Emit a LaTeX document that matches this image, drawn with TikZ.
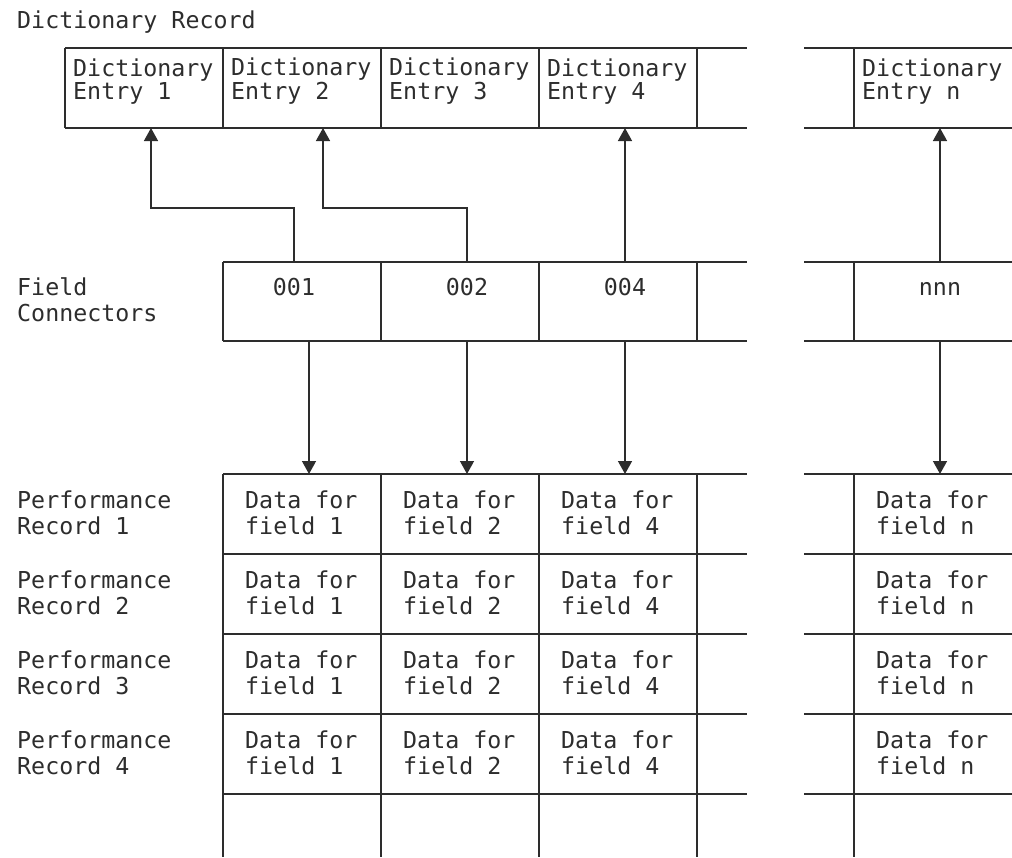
\documentclass[tikz,border=0pt]{standalone}
\usepackage{fontspec}
\newfontfamily\dmono{DejaVu Sans Mono}
\usetikzlibrary{arrows.meta}
\definecolor{ink}{RGB}{45,45,45}
\begin{document}
\begin{tikzpicture}[x=1pt,y=-1pt,
  grid/.style={draw=ink,line width=1.4pt},
  arr/.style={draw=ink,line width=1.4pt,-{Triangle[width=14pt,length=13pt]}},
  txt/.style={anchor=base west,align=left,inner sep=0pt,text=ink,font={\dmono\fontsize{23.3}{26}\selectfont}},
  ent/.style={txt,font={\dmono\fontsize{23.3}{19}\selectfont}},
  num/.style={anchor=base,inner sep=0pt,text=ink,font={\dmono\fontsize{23.3}{26}\selectfont}}]
\useasboundingbox (0,0) rectangle (1012,857);
% dictionary record row
\foreach \y in {48,128} {\draw[grid] (65,\y) -- (747,\y); \draw[grid] (804,\y) -- (1012,\y);}
\foreach \x in {65,223,381,539,697,854} \draw[grid] (\x,48) -- (\x,128);
% field connector row
\foreach \y in {262,341} {\draw[grid] (223,\y) -- (747,\y); \draw[grid] (804,\y) -- (1012,\y);}
\foreach \x in {223,381,539,697,854} \draw[grid] (\x,262) -- (\x,341);
% data table
\foreach \y in {474,554,634,714,794} {\draw[grid] (223,\y) -- (747,\y); \draw[grid] (804,\y) -- (1012,\y);}
\foreach \x in {223,381,539,697,854} \draw[grid] (\x,474) -- (\x,857);
% texts (base anchor = baseline of the last line)
\node[txt] (title) at (17,28) {Dictionary Record};
\node[ent] (de1) at (73,99) {Dictionary\\Entry 1};
\node[ent] (de2) at (231,99) {Dictionary\\Entry 2};
\node[ent] (de3) at (389,99) {Dictionary\\Entry 3};
\node[ent] (de4) at (547,99) {Dictionary\\Entry 4};
\node[ent] (den) at (862,99) {Dictionary\\Entry n};
\node[txt] (fclab) at (17,321) {Field\\Connectors};
\node[num] (fc1) at (294,295) {001};
\node[num] (fc2) at (467,295) {002};
\node[num] (fc4) at (625,295) {004};
\node[num] (fcn) at (940,295) {nnn};
\foreach \r in {1,2,3,4} {
  \pgfmathsetmacro{\yy}{534+80*(\r-1)}
  \node[txt] (pr\r) at (17,\yy) {Performance\\Record \r};
  \node[txt] (d\r a) at (245,\yy) {Data for\\field 1};
  \node[txt] (d\r b) at (403,\yy) {Data for\\field 2};
  \node[txt] (d\r c) at (561,\yy) {Data for\\field 4};
  \node[txt] (d\r n) at (876,\yy) {Data for\\field n};
}
% connector end points
\coordinate (fc1t) at (294,262); \coordinate (fc2t) at (467,262);
\coordinate (fc4t) at (625,262); \coordinate (fcnt) at (940,262);
\coordinate (de1b) at (151,128); \coordinate (de2b) at (323,128);
\coordinate (de4b) at (625,128); \coordinate (denb) at (940,128);
\coordinate (fc1b) at (309,341); \coordinate (fc2b) at (467,341);
\coordinate (fc4b) at (625,341); \coordinate (fcnb) at (940,341);
\coordinate (dt1) at (309,474); \coordinate (dt2) at (467,474);
\coordinate (dt4) at (625,474); \coordinate (dtn) at (940,474);
% connectors
\draw[arr] (fc1t) -- ++(0,-54) -| (de1b);
\draw[arr] (fc2t) -- ++(0,-54) -| (de2b);
\draw[arr] (fc4t) -- (de4b);
\draw[arr] (fcnt) -- (denb);
\draw[arr] (fc1b) -- (dt1);
\draw[arr] (fc2b) -- (dt2);
\draw[arr] (fc4b) -- (dt4);
\draw[arr] (fcnb) -- (dtn);
\end{tikzpicture}
\end{document}
